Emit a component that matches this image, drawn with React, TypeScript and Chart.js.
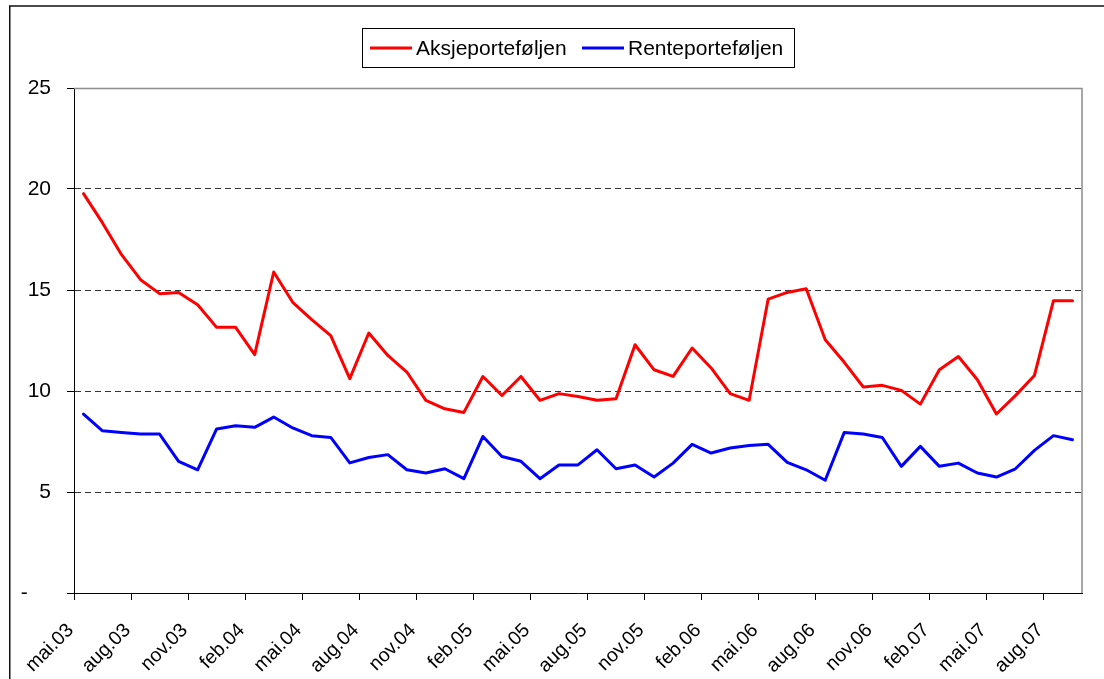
import React, { useEffect, useRef } from 'react';
import { Chart, registerables } from 'chart.js';

Chart.register(...registerables);

const categories = [
  'mai.03', 'jun.03', 'jul.03', 'aug.03', 'sep.03', 'okt.03', 'nov.03', 'des.03',
  'jan.04', 'feb.04', 'mar.04', 'apr.04', 'mai.04', 'jun.04', 'jul.04', 'aug.04', 'sep.04', 'okt.04', 'nov.04', 'des.04',
  'jan.05', 'feb.05', 'mar.05', 'apr.05', 'mai.05', 'jun.05', 'jul.05', 'aug.05', 'sep.05', 'okt.05', 'nov.05', 'des.05',
  'jan.06', 'feb.06', 'mar.06', 'apr.06', 'mai.06', 'jun.06', 'jul.06', 'aug.06', 'sep.06', 'okt.06', 'nov.06', 'des.06',
  'jan.07', 'feb.07', 'mar.07', 'apr.07', 'mai.07', 'jun.07', 'jul.07', 'aug.07', 'sep.07',
];

const labelEvery = 3;

const aksjeporteforljen = [
  19.77, 18.32, 16.75, 15.51, 14.82, 14.88, 14.27, 13.15, 13.15, 11.8, 15.89, 14.39, 13.53, 12.74, 10.61, 12.87, 11.76, 10.94,
  9.54, 9.12, 8.94, 10.72, 9.78, 10.72, 9.54, 9.87, 9.73, 9.54, 9.62, 12.29, 11.05, 10.72, 12.13, 11.14, 9.87, 9.54,
  14.55, 14.88, 15.06, 12.54, 11.42, 10.2, 10.28, 10.03, 9.35, 11.05, 11.71, 10.56, 8.86, 9.77, 10.77, 14.47, 14.47,
];

const renteporteforljen = [
  8.86, 8.03, 7.95, 7.87, 7.87, 6.52, 6.1, 8.12, 8.28, 8.2, 8.71, 8.17, 7.79, 7.7, 6.44, 6.71, 6.85, 6.1,
  5.94, 6.15, 5.66, 7.75, 6.76, 6.52, 5.66, 6.34, 6.34, 7.09, 6.15, 6.34, 5.74, 6.43, 7.36, 6.93, 7.18, 7.3,
  7.36, 6.47, 6.1, 5.58, 7.95, 7.87, 7.7, 6.27, 7.26, 6.27, 6.43, 5.94, 5.74, 6.15, 7.06, 7.79, 7.59,
];

const yTickValues = [0, 5, 10, 15, 20, 25];
const zeroLabel = '-    ';

const seriesNames = ['Aksjeporteføljen', 'Renteporteføljen'];
const seriesColors = ['#FF0000', '#0000FF'];

const FONT = "'Liberation Sans', Arial, Helvetica, sans-serif";

const framePlugin = {
  id: 'frame',
  beforeDraw(chart: any) {
    const ctx = chart.ctx;
    ctx.save();
    ctx.fillStyle = '#ffffff';
    ctx.fillRect(0, 0, chart.width, chart.height);
    ctx.strokeStyle = '#111';
    ctx.lineWidth = 1.5;
    ctx.beginPath();
    ctx.moveTo(9.75, chart.height + 5);
    ctx.lineTo(9.75, 6);
    ctx.lineTo(chart.width + 5, 6);
    ctx.stroke();
    ctx.restore();
  },
  afterDraw(chart: any) {
    const ctx = chart.ctx;
    const a = chart.chartArea;
    ctx.save();
    // plot area top/right border
    ctx.strokeStyle = '#8c8c8c';
    ctx.lineWidth = 1.5;
    ctx.beginPath();
    ctx.moveTo(a.left, a.top + 0.5);
    ctx.lineTo(a.right, a.top + 0.5);
    ctx.lineTo(a.right, a.bottom);
    ctx.stroke();

    // legend
    const bx = 362.5, by = 28.5, bw = 432, bh = 39;
    ctx.fillStyle = '#ffffff';
    ctx.fillRect(bx, by, bw, bh);
    ctx.strokeStyle = '#000';
    ctx.lineWidth = 1;
    ctx.strokeRect(bx, by, bw, bh);
    const cy = 48;
    const entries = [
      { x0: 370, x1: 412, tx: 416 },
      { x0: 582, x1: 624, tx: 628 },
    ];
    ctx.font = `21px ${FONT}`;
    ctx.textBaseline = 'middle';
    ctx.textAlign = 'left';
    entries.forEach((e, i) => {
      ctx.strokeStyle = seriesColors[i];
      ctx.lineWidth = 3;
      ctx.beginPath();
      ctx.moveTo(e.x0, cy);
      ctx.lineTo(e.x1, cy);
      ctx.stroke();
      ctx.fillStyle = '#000';
      ctx.fillText(seriesNames[i], e.tx, cy + 1);
    });
    ctx.restore();
  },
};

export default function App() {
  const ref = useRef<HTMLCanvasElement | null>(null);

  useEffect(() => {
    if (!ref.current) return;
    const chart = new Chart(ref.current, {
      type: 'line',
      data: {
        labels: categories,
        datasets: [
          {
            label: seriesNames[0],
            data: aksjeporteforljen,
            borderColor: seriesColors[0],
            backgroundColor: seriesColors[0],
            borderWidth: 3,
            pointRadius: 0,
            tension: 0,
            borderJoinStyle: 'round',
            borderCapStyle: 'round',
          },
          {
            label: seriesNames[1],
            data: renteporteforljen,
            borderColor: seriesColors[1],
            backgroundColor: seriesColors[1],
            borderWidth: 3,
            pointRadius: 0,
            tension: 0,
            borderJoinStyle: 'round',
            borderCapStyle: 'round',
          },
        ],
      },
      options: {
        responsive: false,
        devicePixelRatio: 1,
        animation: false,
        events: [],
        layout: { padding: { top: 88, right: 22, left: 0, bottom: 0 } },
        plugins: {
          legend: { display: false },
          tooltip: { enabled: false },
          title: { display: false },
        },
        scales: {
          x: {
            type: 'category',
            offset: true,
            grid: {
              offset: true,
              drawOnChartArea: false,
              drawTicks: true,
              tickLength: 7,
              color: 'rgba(0,0,0,0)',
              tickColor: (c: any) => (typeof c.index === 'number' && c.index % labelEvery === 0 ? '#000' : 'rgba(0,0,0,0)'),
              tickWidth: 1,
            },
            border: { display: true, color: '#000', width: 1 },
            ticks: {
              autoSkip: false,
              maxRotation: 45,
              minRotation: 45,
              padding: 19,
              labelOffset: -13,
              color: '#000',
              font: { family: FONT, size: 19.5 },
              callback: (_v: any, i: number) => (i % labelEvery === 0 ? categories[i] : ''),
            },
            afterFit: (s: any) => {
              s.height = 86;
              s.paddingLeft = 0;
              s.paddingRight = 0;
            },
          },
          y: {
            min: 0,
            max: 25,
            afterBuildTicks: (s: any) => {
              s.ticks = yTickValues.map((v) => ({ value: v }));
            },
            grid: {
              drawTicks: true,
              tickLength: 7,
              lineWidth: 1,
              color: (c: any) => {
                const v = c.tick ? c.tick.value : null;
                return v === 0 || v === 25 ? 'rgba(0,0,0,0)' : '#333';
              },
              tickColor: '#000',
              tickBorderDash: [],
            },
            border: { display: true, color: '#000', width: 1, dash: [6, 4] },
            ticks: {
              padding: 16,
              color: '#000',
              font: { family: FONT, size: 21 },
              callback: (v: any) => (v === 0 ? zeroLabel : String(v)),
            },
            afterFit: (s: any) => {
              s.width = 74;
              s.paddingTop = 0;
              s.paddingBottom = 0;
            },
          },
        },
      },
      plugins: [framePlugin],
    });
    return () => chart.destroy();
  }, []);

  return (
    <div style={{ position: 'absolute', left: 0, top: 0, width: 1104, height: 679, overflow: 'hidden', background: '#fff' }}>
      <canvas ref={ref} width={1104} height={679} style={{ display: 'block', width: 1104, height: 679 }} />
    </div>
  );
}
